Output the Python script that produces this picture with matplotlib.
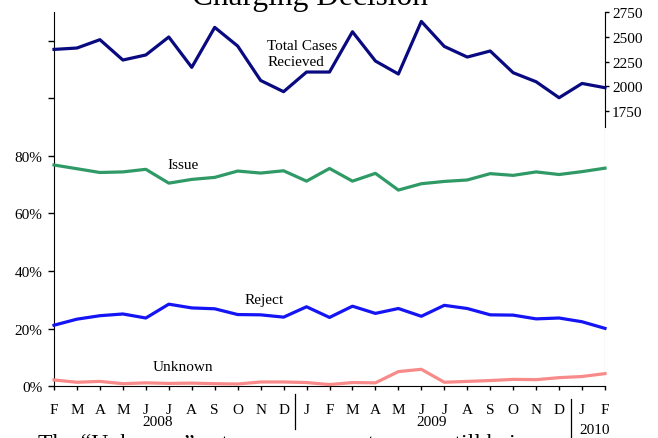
import matplotlib
matplotlib.use("Agg")
import matplotlib.pyplot as plt

plt.rcParams['font.family'] = ['Liberation Serif', 'DejaVu Serif']
plt.rcParams['font.size'] = 11

months = ["F", "M", "A", "M", "J", "J", "A", "S", "O", "N", "D",
          "J", "F", "M", "A", "M", "J", "J", "A", "S", "O", "N", "D",
          "J", "F"]
years = ["2008", "2009", "2010"]

total_cases = [2373, 2387, 2471, 2266, 2317, 2498, 2192, 2595, 2407, 2060,
               1947, 2145, 2145, 2551, 2256, 2125, 2655, 2403, 2296, 2357,
               2138, 2047, 1886, 2030, 1987]
issue = [76.8, 75.5, 74.2, 74.4, 75.3, 70.5, 71.8, 72.5, 74.7, 74.0, 74.8,
         71.2, 75.6, 71.2, 73.9, 68.1, 70.3, 71.1, 71.6, 73.8, 73.2, 74.4,
         73.5, 74.5, 75.7]
reject = [21.2, 23.3, 24.5, 25.1, 23.7, 28.5, 27.2, 26.9, 24.9, 24.8, 24.0,
          27.6, 23.9, 27.8, 25.3, 27.0, 24.3, 28.1, 27.0, 24.8, 24.7, 23.4,
          23.7, 22.4, 20.1]
unknown = [2.2, 1.4, 1.7, 0.9, 1.2, 1.0, 1.1, 0.9, 0.8, 1.5, 1.5, 1.3, 0.6,
           1.3, 1.2, 5.1, 5.9, 1.4, 1.7, 2.0, 2.4, 2.3, 3.0, 3.4, 4.4]

x = list(range(len(months)))

W, H = 658, 439
fig = plt.figure(figsize=(W / 100, H / 100), dpi=100)
ax = fig.add_axes([54 / W, 1 - 387.3 / H, (605 - 54) / W, (387.3 - 12.7) / H])
ax2 = ax.twinx()

lw = 2.3
ax.plot(x, issue, color="#2f9a66", lw=lw, clip_on=False, zorder=3)
ax.plot(x, reject, color="#1414f5", lw=lw, clip_on=False, zorder=3)
ax.plot(x, unknown, color="#f98a8a", lw=lw, clip_on=False, zorder=3)
ax2.plot(x, total_cases, color="#0a0a80", lw=lw, clip_on=False, zorder=3)

ax.set_xlim(0, 24)
ax.set_ylim(0, 130)
ax2.set_ylim(-1022, 2753)

for s in ["top", "right"]:
    ax.spines[s].set_visible(False)
for s in ["top", "left", "bottom"]:
    ax2.spines[s].set_visible(False)
ax2.spines["right"].set_bounds(1590, 2750)
ax.axvline(24, color="#cfcfcf", lw=0.9, zorder=0)

ax.set_yticks([0, 20, 40, 60, 80, 100, 120],
              labels=["0%", "20%", "40%", "60%", "80%", "", ""])
ax.tick_params(axis="y", direction="out", length=4, width=1, pad=4.5)
ax.set_xticks(x, labels=months)
ax.tick_params(axis="x", direction="out", length=3, width=1, pad=9)

ax2.set_yticks([1750, 2000, 2250, 2500, 2750])
ax2.tick_params(axis="y", direction="out", length=3, width=1, pad=2)

# series labels
ax.text(9.28, 115.5, "Total Cases\nRecieved", ha="left", va="center",
        linespacing=1.35)
ax.text(5.62, 77.0, "Issue", ha="center", va="center")
ax.text(9.15, 30.2, "Reject", ha="center", va="center")
ax.text(5.62, 6.7, "Unknown", ha="center", va="center")

# year labels and separators
xt = ax.get_xaxis_transform()
ax.text(4.5, -0.0953, years[0], transform=xt, ha="center", va="center")
ax.text(16.45, -0.0953, years[1], transform=xt, ha="center", va="center")
ax.text(23.55, -0.114, years[2], transform=xt, ha="center", va="center")
ax.plot([10.5, 10.5], [-0.0206, -0.114], transform=xt, color="black",
        lw=0.9, clip_on=False)
ax.plot([22.5, 22.5], [-0.0339, -0.145], transform=xt, color="black",
        lw=0.9, clip_on=False)

fig.text(310 / W, 1 - 5 / H, "Charging Decision", ha="center",
         va="baseline", fontsize=22.6)
fig.text(38 / W, 1 - 450 / H,
         "The \u201cUnknown\u201d category represents cases still being",
         ha="left", va="baseline", fontsize=17)

fig.savefig("out.png", dpi=100)
